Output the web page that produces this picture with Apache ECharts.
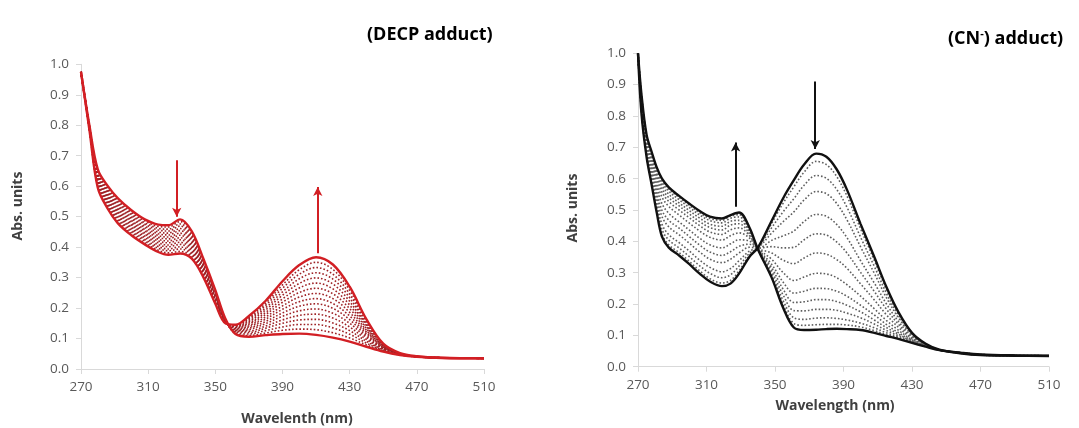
<!DOCTYPE html>
<html>
<head>
<meta charset="utf-8">
<script src="https://cdn.jsdelivr.net/npm/echarts@6/dist/echarts.min.js"></script>
<style>html,body{margin:0;padding:0;background:#fff}#c{width:1079px;height:428px}</style>
</head>
<body>
<div id="c"></div>
<script>
// ---------- Left panel (DECP adduct) ----------
const LEFT_WL = [270, 275, 280, 286, 292, 300, 308, 316, 322, 329, 336, 343, 350, 356, 362, 370, 380, 390, 400, 410, 420, 430, 440, 450, 460, 470, 485, 510];
const LEFT_INITIAL = [0.975, 0.800, 0.655, 0.600, 0.560, 0.521, 0.491, 0.474, 0.472, 0.491, 0.452, 0.360, 0.259, 0.165, 0.115, 0.106, 0.111, 0.115, 0.116, 0.112, 0.103, 0.090, 0.073, 0.057, 0.046, 0.040, 0.036, 0.035];
const L01 = [0.975, 0.799, 0.651, 0.595, 0.554, 0.515, 0.486, 0.468, 0.466, 0.484, 0.446, 0.356, 0.256, 0.164, 0.117, 0.110, 0.118, 0.127, 0.131, 0.129, 0.119, 0.102, 0.079, 0.059, 0.046, 0.040, 0.036, 0.035];
const L02 = [0.975, 0.798, 0.647, 0.590, 0.549, 0.510, 0.480, 0.462, 0.459, 0.476, 0.440, 0.352, 0.253, 0.163, 0.119, 0.115, 0.126, 0.138, 0.146, 0.146, 0.135, 0.114, 0.085, 0.060, 0.047, 0.040, 0.036, 0.035];
const L03 = [0.975, 0.797, 0.643, 0.585, 0.544, 0.505, 0.475, 0.456, 0.453, 0.469, 0.434, 0.348, 0.250, 0.162, 0.121, 0.120, 0.134, 0.150, 0.161, 0.163, 0.151, 0.126, 0.091, 0.062, 0.047, 0.040, 0.036, 0.035];
const L04 = [0.975, 0.796, 0.639, 0.580, 0.538, 0.499, 0.469, 0.450, 0.446, 0.461, 0.428, 0.344, 0.247, 0.161, 0.123, 0.124, 0.141, 0.161, 0.176, 0.180, 0.167, 0.138, 0.097, 0.064, 0.048, 0.040, 0.036, 0.035];
const L05 = [0.975, 0.795, 0.635, 0.575, 0.533, 0.494, 0.464, 0.444, 0.440, 0.454, 0.422, 0.340, 0.244, 0.160, 0.125, 0.129, 0.149, 0.173, 0.191, 0.197, 0.183, 0.150, 0.103, 0.066, 0.048, 0.041, 0.036, 0.035];
const L06 = [0.975, 0.794, 0.631, 0.570, 0.527, 0.488, 0.458, 0.438, 0.433, 0.446, 0.416, 0.336, 0.241, 0.159, 0.127, 0.133, 0.156, 0.184, 0.206, 0.214, 0.199, 0.162, 0.109, 0.067, 0.048, 0.041, 0.036, 0.035];
const L07 = [0.975, 0.793, 0.627, 0.565, 0.522, 0.483, 0.453, 0.432, 0.427, 0.439, 0.410, 0.332, 0.238, 0.158, 0.129, 0.138, 0.164, 0.196, 0.221, 0.231, 0.215, 0.174, 0.115, 0.069, 0.049, 0.041, 0.037, 0.035];
const L08 = [0.975, 0.792, 0.623, 0.560, 0.516, 0.477, 0.447, 0.426, 0.420, 0.431, 0.404, 0.328, 0.235, 0.157, 0.131, 0.142, 0.171, 0.207, 0.236, 0.248, 0.231, 0.186, 0.121, 0.071, 0.049, 0.041, 0.037, 0.035];
const L09 = [0.975, 0.791, 0.619, 0.555, 0.511, 0.472, 0.442, 0.420, 0.414, 0.424, 0.398, 0.324, 0.232, 0.156, 0.133, 0.147, 0.179, 0.219, 0.251, 0.265, 0.247, 0.198, 0.127, 0.072, 0.050, 0.041, 0.037, 0.035];
const L10 = [0.975, 0.790, 0.615, 0.550, 0.505, 0.466, 0.436, 0.414, 0.407, 0.416, 0.392, 0.320, 0.229, 0.155, 0.135, 0.151, 0.186, 0.230, 0.266, 0.282, 0.263, 0.210, 0.133, 0.074, 0.050, 0.041, 0.037, 0.035];
const L11 = [0.975, 0.789, 0.611, 0.545, 0.500, 0.461, 0.431, 0.408, 0.401, 0.409, 0.386, 0.316, 0.226, 0.154, 0.137, 0.156, 0.194, 0.242, 0.281, 0.299, 0.279, 0.222, 0.139, 0.076, 0.050, 0.041, 0.037, 0.035];
const L12 = [0.975, 0.788, 0.607, 0.540, 0.494, 0.455, 0.425, 0.402, 0.394, 0.401, 0.380, 0.312, 0.223, 0.153, 0.139, 0.160, 0.201, 0.253, 0.296, 0.316, 0.295, 0.234, 0.145, 0.077, 0.051, 0.041, 0.037, 0.035];
const L13 = [0.975, 0.787, 0.603, 0.535, 0.489, 0.450, 0.420, 0.396, 0.388, 0.394, 0.374, 0.308, 0.220, 0.152, 0.141, 0.165, 0.209, 0.265, 0.311, 0.333, 0.311, 0.246, 0.151, 0.079, 0.051, 0.041, 0.037, 0.035];
const L14 = [0.975, 0.786, 0.599, 0.530, 0.483, 0.444, 0.414, 0.390, 0.381, 0.386, 0.368, 0.304, 0.217, 0.151, 0.143, 0.169, 0.216, 0.276, 0.326, 0.350, 0.327, 0.258, 0.157, 0.081, 0.052, 0.041, 0.037, 0.035];
const LEFT_FINAL = [0.975, 0.785, 0.595, 0.525, 0.478, 0.439, 0.409, 0.384, 0.375, 0.379, 0.362, 0.300, 0.214, 0.150, 0.145, 0.174, 0.224, 0.288, 0.341, 0.367, 0.343, 0.270, 0.163, 0.083, 0.052, 0.042, 0.037, 0.035];
// arrows: [wavelength, from, to]
const LEFT_ARROWS = [[327, 0.685, 0.500], [411, 0.380, 0.597]];

// ---------- Right panel (CN- adduct) ----------
const RIGHT_WL = [270, 272, 275, 278, 281, 284, 288, 294, 300, 306, 312, 319, 324, 329, 335, 340, 348, 355, 361, 367, 374, 380, 386, 392, 400, 408, 415, 422, 430, 438, 446, 458, 470, 490, 510];
const RIGHT_INITIAL = [1.0, 0.81, 0.67, 0.58, 0.49, 0.415, 0.38, 0.355, 0.327, 0.297, 0.272, 0.257, 0.265, 0.297, 0.35, 0.38, 0.465, 0.54, 0.595, 0.645, 0.68, 0.67, 0.63, 0.565, 0.455, 0.35, 0.255, 0.175, 0.108, 0.073, 0.054, 0.043, 0.037, 0.035, 0.034];
const R01 = [1.0, 0.813, 0.673, 0.585, 0.497, 0.423, 0.389, 0.364, 0.336, 0.306, 0.281, 0.267, 0.275, 0.306, 0.354, 0.380, 0.457, 0.524, 0.574, 0.621, 0.655, 0.645, 0.607, 0.545, 0.440, 0.339, 0.248, 0.171, 0.107, 0.073, 0.054, 0.043, 0.037, 0.035, 0.034];
const R02 = [1.0, 0.818, 0.679, 0.593, 0.508, 0.438, 0.404, 0.379, 0.351, 0.322, 0.298, 0.284, 0.293, 0.321, 0.361, 0.379, 0.443, 0.496, 0.536, 0.579, 0.610, 0.601, 0.566, 0.509, 0.413, 0.320, 0.235, 0.164, 0.104, 0.072, 0.054, 0.043, 0.037, 0.035, 0.034];
const R03 = [1.0, 0.823, 0.685, 0.603, 0.521, 0.455, 0.421, 0.396, 0.369, 0.340, 0.317, 0.303, 0.313, 0.338, 0.369, 0.379, 0.426, 0.464, 0.494, 0.532, 0.559, 0.552, 0.521, 0.469, 0.382, 0.298, 0.221, 0.157, 0.101, 0.071, 0.054, 0.043, 0.037, 0.035, 0.034];
const R04 = [1.0, 0.831, 0.694, 0.616, 0.540, 0.479, 0.446, 0.421, 0.394, 0.366, 0.343, 0.332, 0.343, 0.363, 0.381, 0.378, 0.403, 0.418, 0.433, 0.463, 0.486, 0.480, 0.454, 0.412, 0.338, 0.267, 0.201, 0.145, 0.097, 0.070, 0.054, 0.044, 0.038, 0.035, 0.034];
const R05 = [1.0, 0.837, 0.702, 0.628, 0.556, 0.499, 0.467, 0.442, 0.415, 0.388, 0.366, 0.355, 0.367, 0.384, 0.391, 0.378, 0.383, 0.379, 0.381, 0.405, 0.424, 0.420, 0.398, 0.363, 0.301, 0.240, 0.184, 0.136, 0.093, 0.069, 0.054, 0.044, 0.038, 0.035, 0.034];
const R06 = [1.0, 0.844, 0.710, 0.639, 0.572, 0.520, 0.489, 0.462, 0.436, 0.410, 0.389, 0.379, 0.392, 0.405, 0.401, 0.377, 0.363, 0.339, 0.329, 0.347, 0.363, 0.359, 0.342, 0.314, 0.264, 0.213, 0.166, 0.126, 0.090, 0.068, 0.053, 0.044, 0.038, 0.036, 0.035];
const R07 = [1.0, 0.851, 0.718, 0.651, 0.589, 0.541, 0.511, 0.484, 0.458, 0.433, 0.413, 0.404, 0.418, 0.427, 0.411, 0.377, 0.343, 0.299, 0.275, 0.286, 0.298, 0.296, 0.284, 0.262, 0.225, 0.185, 0.148, 0.117, 0.086, 0.067, 0.053, 0.044, 0.038, 0.036, 0.035];
const R08 = [1.0, 0.856, 0.724, 0.660, 0.601, 0.557, 0.527, 0.500, 0.475, 0.450, 0.430, 0.422, 0.437, 0.443, 0.419, 0.376, 0.327, 0.268, 0.235, 0.241, 0.250, 0.249, 0.241, 0.225, 0.196, 0.165, 0.135, 0.109, 0.084, 0.066, 0.053, 0.045, 0.039, 0.036, 0.035];
const R09 = [1.0, 0.860, 0.728, 0.667, 0.610, 0.569, 0.539, 0.513, 0.487, 0.463, 0.444, 0.436, 0.452, 0.456, 0.425, 0.376, 0.316, 0.245, 0.205, 0.207, 0.214, 0.214, 0.208, 0.196, 0.175, 0.149, 0.125, 0.104, 0.081, 0.066, 0.053, 0.045, 0.039, 0.036, 0.035];
const R10 = [1.0, 0.863, 0.732, 0.673, 0.618, 0.579, 0.550, 0.523, 0.498, 0.474, 0.455, 0.448, 0.464, 0.467, 0.432, 0.376, 0.306, 0.226, 0.179, 0.178, 0.183, 0.183, 0.180, 0.171, 0.156, 0.136, 0.116, 0.099, 0.080, 0.065, 0.053, 0.045, 0.039, 0.036, 0.035];
const R11 = [1.0, 0.866, 0.736, 0.678, 0.626, 0.588, 0.560, 0.533, 0.508, 0.484, 0.466, 0.459, 0.474, 0.478, 0.437, 0.375, 0.297, 0.208, 0.156, 0.151, 0.155, 0.156, 0.154, 0.149, 0.139, 0.124, 0.108, 0.095, 0.078, 0.065, 0.053, 0.045, 0.039, 0.036, 0.035];
const R12 = [1.0, 0.868, 0.738, 0.682, 0.631, 0.595, 0.567, 0.540, 0.515, 0.491, 0.473, 0.467, 0.481, 0.485, 0.441, 0.375, 0.290, 0.195, 0.138, 0.132, 0.134, 0.135, 0.135, 0.133, 0.127, 0.115, 0.102, 0.091, 0.077, 0.064, 0.053, 0.045, 0.039, 0.036, 0.035];
const RIGHT_FINAL = [1.0, 0.87, 0.74, 0.685, 0.635, 0.60, 0.572, 0.545, 0.52, 0.497, 0.479, 0.473, 0.484, 0.492, 0.445, 0.375, 0.285, 0.185, 0.125, 0.117, 0.118, 0.12, 0.121, 0.12, 0.117, 0.108, 0.098, 0.089, 0.076, 0.064, 0.053, 0.045, 0.039, 0.036, 0.035];
const RIGHT_ARROWS = [[327, 0.51, 0.715], [373.5, 0.91, 0.695]];

// ---------- Axis ticks / texts ----------
const X_MIN = 270, X_MAX = 510, X_STEP = 40;
const Y_MIN = 0, Y_MAX = 1.0, Y_STEP = 0.1;
const LEFT_TITLE = '(DECP adduct)';
const RIGHT_TITLE = '(CN{s|-}) adduct)';
const Y_NAME = 'Abs. units';
const LEFT_X_NAME = 'Wavelenth (nm)';
const RIGHT_X_NAME = 'Wavelength (nm)';

const LEFT_DOTTED = [L01, L02, L03, L04, L05, L06, L07, L08, L09, L10, L11, L12, L13, L14];
const RIGHT_DOTTED = [R01, R02, R03, R04, R05, R06, R07, R08, R09, R10, R11, R12];

const FONT = '"Open Sans", "Liberation Sans", sans-serif';
const LEFT_SOLID_COLOR = '#d21f24';
const LEFT_DOT_COLOR = '#9e2226';
const RIGHT_SOLID_COLOR = '#111111';
const RIGHT_DOT_COLOR = '#5e5e5e';

function pairs(xs, ys) { return xs.map((x, i) => [x, ys[i]]); }

function axisPair(idx) {
  const common = {
    gridIndex: idx, type: 'value', splitLine: { show: false },
    axisLine: { show: true, lineStyle: { color: '#d9d9d9', width: 1 } },
    axisTick: { show: true, length: 5, lineStyle: { color: '#d9d9d9' } }
  };
  return {
    x: Object.assign({}, common, {
      min: X_MIN, max: X_MAX, interval: X_STEP,
      axisLabel: { color: '#595959', fontFamily: FONT, fontSize: 13.5, margin: 11 }
    }),
    y: Object.assign({}, common, {
      min: Y_MIN, max: Y_MAX, interval: Y_STEP,
      axisLabel: { color: '#595959', fontFamily: FONT, fontSize: 13.5, margin: 12,
        formatter: v => v.toFixed(1) }
    })
  };
}

function arrowMark(arrows, color) {
  return {
    silent: true, animation: false,
    symbol: ['none', 'arrow'], symbolSize: [7, 9],
    label: { show: false },
    lineStyle: { color: color, width: 2, type: 'solid' },
    data: arrows.map(a => [{ coord: [a[0], a[1]] }, { coord: [a[0], a[2]] }])
  };
}

const series = [];
LEFT_DOTTED.forEach(arr => series.push({
  type: 'line', xAxisIndex: 0, yAxisIndex: 0, data: pairs(LEFT_WL, arr),
  smooth: 0.35, showSymbol: false, symbol: 'none', silent: true,
  lineStyle: { color: LEFT_DOT_COLOR, width: 1.6, type: [1.6, 2.0] }, z: 2
}));
[LEFT_INITIAL, LEFT_FINAL].forEach((arr, i) => series.push({
  type: 'line', xAxisIndex: 0, yAxisIndex: 0, data: pairs(LEFT_WL, arr),
  smooth: 0.35, showSymbol: false, symbol: 'none', silent: true,
  lineStyle: { color: LEFT_SOLID_COLOR, width: 2.4 }, z: 3,
  markLine: i === 0 ? arrowMark(LEFT_ARROWS, LEFT_SOLID_COLOR) : undefined
}));
RIGHT_DOTTED.forEach(arr => series.push({
  type: 'line', xAxisIndex: 1, yAxisIndex: 1, data: pairs(RIGHT_WL, arr),
  smooth: 0.35, showSymbol: false, symbol: 'none', silent: true,
  lineStyle: { color: RIGHT_DOT_COLOR, width: 1.6, type: [1.6, 2.0] }, z: 2
}));
[RIGHT_INITIAL, RIGHT_FINAL].forEach((arr, i) => series.push({
  type: 'line', xAxisIndex: 1, yAxisIndex: 1, data: pairs(RIGHT_WL, arr),
  smooth: 0.35, showSymbol: false, symbol: 'none', silent: true,
  lineStyle: { color: RIGHT_SOLID_COLOR, width: 2.4 }, z: 3,
  markLine: i === 0 ? arrowMark(RIGHT_ARROWS, RIGHT_SOLID_COLOR) : undefined
}));

const a0 = axisPair(0), a1 = axisPair(1);
const nameStyle = { font: 'bold 14px ' + FONT, fill: '#404040', textAlign: 'center', textVerticalAlign: 'middle', align: 'center', verticalAlign: 'middle' };

const option = {
  animation: false,
  backgroundColor: '#ffffff',
  title: [
    { text: LEFT_TITLE, left: 367, top: 26, padding: 0,
      textStyle: { fontFamily: FONT, fontWeight: 'bold', fontSize: 18, color: '#000' } },
    { text: RIGHT_TITLE, left: 948, top: 28, padding: 0,
      textStyle: { fontFamily: FONT, fontWeight: 'bold', fontSize: 18, color: '#000', lineHeight: 22,
        rich: { s: { fontFamily: FONT, fontWeight: 'bold', fontSize: 11, color: '#000', verticalAlign: 'top', lineHeight: 22, padding: [0, 0, 9, 0] } } } }
  ],
  grid: [
    { left: 81, top: 64.3, width: 403, height: 304.7, containLabel: false },
    { left: 638, top: 53.3, width: 411, height: 313.4, containLabel: false }
  ],
  xAxis: [a0.x, a1.x],
  yAxis: [a0.y, a1.y],
  graphic: [
    { type: 'text', x: 18, y: 206, rotation: Math.PI / 2, style: Object.assign({ text: Y_NAME }, nameStyle) },
    { type: 'text', x: 297, y: 419, style: Object.assign({ text: LEFT_X_NAME }, nameStyle) },
    { type: 'text', x: 573, y: 208, rotation: Math.PI / 2, style: Object.assign({ text: Y_NAME }, nameStyle) },
    { type: 'text', x: 835, y: 406, style: Object.assign({ text: RIGHT_X_NAME }, nameStyle) }
  ],
  series: series
};

const chart = echarts.init(document.getElementById('c'), null, { renderer: 'canvas' });
chart.setOption(option);
</script>
</body>
</html>
